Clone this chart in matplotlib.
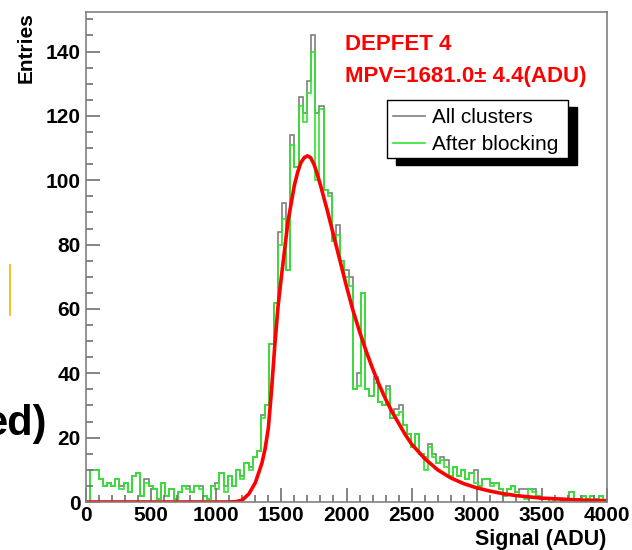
import numpy as np
import matplotlib.pyplot as plt
from matplotlib.patches import Rectangle
from matplotlib.lines import Line2D

plt.rcParams['font.family'] = ['Liberation Sans', 'DejaVu Sans']
plt.rcParams['font.weight'] = 'bold'

# histogram binning: 125 bins of 32 ADU
bin_edges = np.linspace(0, 4000, 126)

# counts per bin
all_clusters = [
    0, 10, 10, 7, 5, 6, 5, 7, 5, 6,
    3, 8, 9, 2, 7, 5, 4, 1, 6, 2,
    4, 1, 3, 5, 5, 3, 5, 5, 2, 1,
    5, 6, 9, 5, 8, 5, 10, 8, 12, 11,
    14, 16, 27, 30, 49, 62, 84, 93, 72, 114,
    104, 126, 121, 131, 145, 121, 123, 97, 96, 81,
    86, 75, 72, 70, 35, 40, 65, 35, 33, 39,
    31, 30, 36, 26, 29, 30, 24, 21, 17, 21,
    15, 14, 18, 15, 12, 14, 13, 8, 11, 8,
    10, 7, 9, 10, 5, 7, 7, 6, 6, 4,
    2, 4, 5, 3, 4, 4, 4, 4, 2, 1,
    1, 1, 1, 1, 0, 1, 3, 1, 1, 2,
    1, 2, 1, 2, 0,
]
after_blocking = [
    0, 10, 10, 7, 5, 6, 5, 7, 4, 6,
    3, 8, 9, 2, 6, 5, 4, 1, 6, 2,
    4, 1, 3, 5, 4, 3, 5, 4, 2, 1,
    5, 4, 9, 3, 8, 5, 10, 7, 12, 10,
    14, 16, 26, 30, 49, 62, 80, 88, 72, 111,
    104, 123, 118, 127, 140, 100, 122, 97, 95, 81,
    83, 75, 70, 67, 35, 36, 65, 35, 33, 37,
    31, 30, 35, 26, 27, 28, 24, 21, 17, 21,
    15, 10, 17, 14, 12, 13, 11, 8, 11, 8,
    10, 7, 9, 6, 5, 7, 7, 5, 6, 4,
    2, 4, 5, 3, 2, 1, 4, 3, 2, 1,
    1, 0, 1, 1, 0, 1, 3, 1, 1, 2,
    1, 2, 1, 2, 0,
]

# Landau (x) Gauss fit curve
fit_x = [0, 1100, 1150, 1200, 1250, 1300, 1350, 1375, 1400, 1425,
         1450, 1475, 1500, 1550, 1600, 1625, 1650, 1675, 1700, 1725,
         1750, 1775, 1800, 1850, 1900, 1950, 2000, 2050, 2100, 2150,
         2200, 2250, 2300, 2350, 2400, 2450, 2500, 2600, 2700, 2800,
         2900, 3000, 3100, 3200, 3300, 3400, 3500, 3600, 3700, 3800,
         3900, 4000]
fit_y = [0, 0, 0.1, 0.6, 2.5, 6, 12, 16.5, 23, 35,
         49, 61, 70, 87, 98.5, 102.5, 105.5, 107, 107.6, 107,
         105, 102, 98.5, 91, 83, 75, 67, 59.5, 53, 47,
         41.5, 36.5, 32, 28, 24.5, 21, 18, 13.5, 10, 7.5,
         5.7, 4.4, 3.4, 2.6, 2, 1.6, 1.2, 1.0, 0.8, 0.6,
         0.5, 0.4]

W, H = 632, 550
fig = plt.figure(figsize=(W / 100, H / 100), dpi=100)
ax = fig.add_axes([86 / W, 48 / H, 521 / W, 490 / H])

grey = '#7f7f7f'
green = '#2ee62e'
ax.stairs(all_clusters, bin_edges, color=grey, lw=1.2)
ax.stairs(after_blocking, bin_edges, color=green, lw=1.2)
ax.plot(fit_x, fit_y, color='#ff0000', lw=2.6, solid_joinstyle='round')

ax.set_xlim(0, 4000)
ax.set_ylim(0, 152.3)
ax.set_xticks(np.arange(0, 4001, 500))
ax.set_xticks(np.arange(0, 4001, 100), minor=True)
ax.set_yticks(np.arange(0, 141, 20))
ax.set_yticks(np.arange(0, 152, 5), minor=True)
ax.tick_params(which='both', direction='in', color='#707070', width=1.2,
               top=False, right=False, labelsize=15)
ax.tick_params(which='major', length=10)
ax.tick_params(which='minor', length=5)
ax.tick_params(axis='x', pad=3)
ax.tick_params(axis='y', pad=4)
for s in ax.spines.values():
    s.set_color('#808080')
    s.set_linewidth(1.2)

fig.text(26 / W, 1 - 12 / H, 'Entries', rotation=90, ha='center', va='top', fontsize=15)
fig.text(606 / W, 1 - 545 / H, 'Signal (ADU)', ha='right', va='baseline', fontsize=15.5)

# fit results
fig.text(345 / W, 1 - 50 / H, 'DEPFET 4', color='#ff0000', fontsize=16, va='baseline')
fig.text(345 / W, 1 - 82 / H, 'MPV=1681.0\u00b1 4.4(ADU)', color='#ff0000', fontsize=16, va='baseline')

# legend box with ROOT style shadow
fig.add_artist(Rectangle((396 / W, 1 - 165 / H), 181 / W, 58 / H, transform=fig.transFigure,
                         fc='black', ec='black', lw=1))
fig.add_artist(Rectangle((387 / W, 1 - 158 / H), 181 / W, 58 / H, transform=fig.transFigure,
                         fc='white', ec='black', lw=1))
for yy, col, lab in [(116, grey, 'All clusters'), (143, green, 'After blocking')]:
    fig.add_artist(Line2D([393 / W, 425 / W], [1 - yy / H] * 2, color=col, lw=1.2,
                          transform=fig.transFigure))
    fig.text(432 / W, 1 - (yy + 7) / H, lab, fontsize=15, weight='normal', va='baseline')

# leftovers of the slide around the plot (cut at the left edge, as in the source)
fig.text(47 / W, 1 - 435 / H, 'ed)', ha='right', va='baseline', fontsize=30)
fig.add_artist(Line2D([10 / W, 10 / W], [1 - 265 / H, 1 - 315 / H], color='#f0b400', lw=1.2,
                      transform=fig.transFigure))

fig.savefig('out.png', dpi=100)
